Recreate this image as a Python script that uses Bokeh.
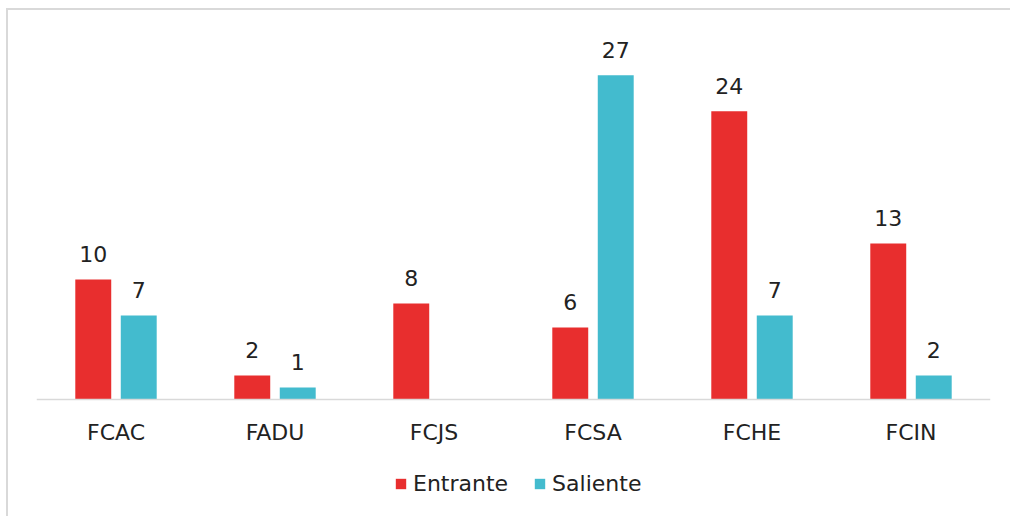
from bokeh.plotting import figure
from bokeh.models import ColumnDataSource, FactorRange, Range1d, Legend, LegendItem, Span
from bokeh.transform import dodge
from bokeh.core.properties import value
from bokeh.embed import file_html
from bokeh.resources import INLINE

categories = ["FCAC", "FADU", "FCJS", "FCSA", "FCHE", "FCIN"]
entrante = [10, 2, 8, 6, 24, 13]
saliente = [7, 1, 0, 27, 7, 2]
series_names = ["Entrante", "Saliente"]

RED = "#E82E2E"
CYAN = "#43BBCE"
FONT = "DejaVu Sans"
FS = "22px"
TXT = "#222222"

src = ColumnDataSource(dict(cat=categories, ent=entrante, sal=saliente))

# frame reaches the page bottom so that the legend can sit inside it
p = figure(x_range=FactorRange(*categories, range_padding=0), y_range=Range1d(-9.75, 31.4),
           frame_width=954, frame_height=494, output_backend="svg", toolbar_location=None,
           min_border_left=28, min_border_right=20, min_border_top=12, min_border_bottom=0)
p.styles = {"margin-left": "6px", "margin-top": "8px",
            "border-left": "2px solid #d9d9d9", "border-top": "2px solid #d9d9d9"}

off = 0.143
w = 0.226
r1 = p.vbar(x=dodge("cat", -off, range=p.x_range), top="ent", width=w, source=src,
            fill_color=RED, line_color=None)
r2 = p.vbar(x=dodge("cat", off, range=p.x_range), top="sal", width=w, source=src,
            fill_color=CYAN, line_color=None)

ls_e = ColumnDataSource(dict(x=[c for c, e in zip(categories, entrante) if e],
                             y=[e for e in entrante if e], t=[str(e) for e in entrante if e]))
ls_s = ColumnDataSource(dict(x=[c for c, s in zip(categories, saliente) if s],
                             y=[s for s in saliente if s], t=[str(s) for s in saliente if s]))
for ls, o in ((ls_e, -off), (ls_s, off)):
    p.text(x=dodge("x", o, range=p.x_range), y="y", text="t", source=ls,
           text_align="center", text_baseline="bottom", y_offset=-17,
           text_font=value(FONT), text_font_size=FS, text_color=TXT)

# category axis: baseline and category labels
p.add_layout(Span(location=0, dimension="width", line_color="#d9d9d9", line_width=1.5))
cat_src = ColumnDataSource(dict(x=categories, t=categories))
p.text(x="x", y=0, text="t", source=cat_src, text_align="center", text_baseline="middle",
       y_offset=33, text_font=value(FONT), text_font_size=FS, text_color=TXT)

p.xaxis.visible = False
p.yaxis.visible = False
p.xgrid.visible = False
p.ygrid.visible = False
p.outline_line_color = None

legend = Legend(items=[LegendItem(label=series_names[0], renderers=[r1]),
                       LegendItem(label=series_names[1], renderers=[r2])],
                orientation="horizontal", location=(358, 20),
                glyph_width=13, glyph_height=13, label_standoff=6, spacing=25,
                label_text_font=FONT, label_text_font_size=FS, label_text_color=TXT,
                border_line_color=None, background_fill_alpha=0, padding=0, margin=0)
p.add_layout(legend)

open("out.html", "w").write(file_html(p, INLINE))
